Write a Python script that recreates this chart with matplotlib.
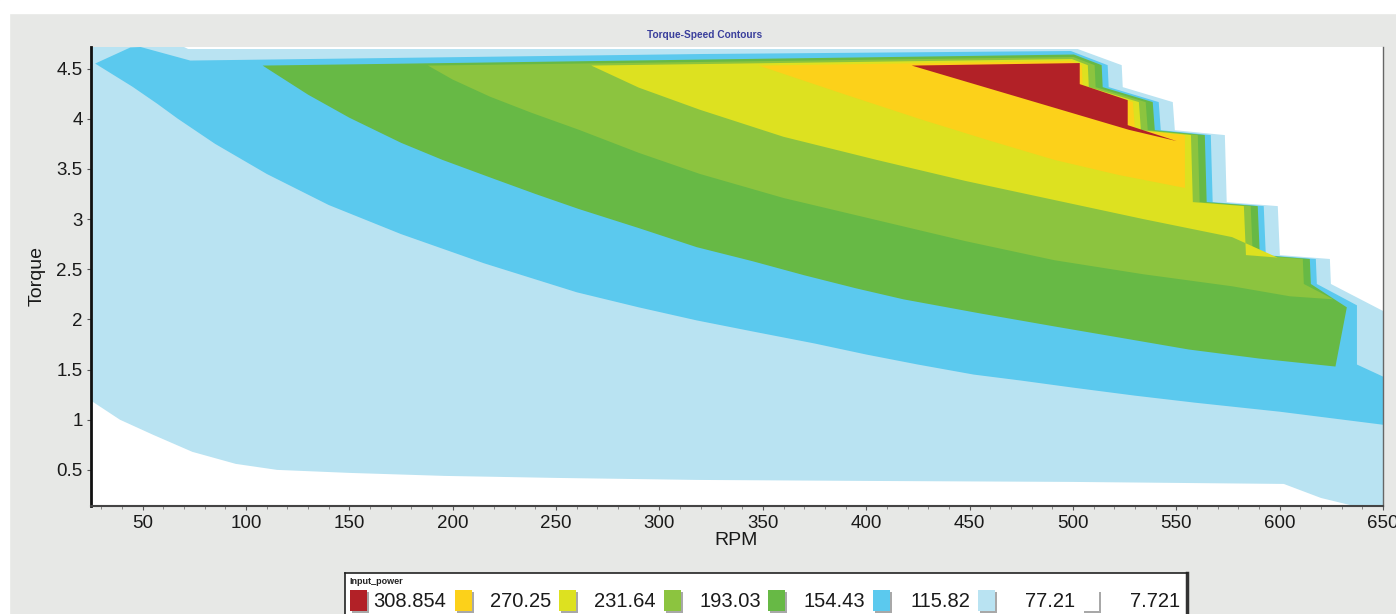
import matplotlib
matplotlib.use("Agg")
import matplotlib.pyplot as plt
from matplotlib.patches import Rectangle

plt.rcParams['font.family'] = ['Liberation Sans', 'DejaVu Sans']

# Power levels shown in the legend (top to bottom)
levels = ['308.854', '270.25', '231.64', '193.03', '154.43', '115.82', '77.21', '7.721']
level_colors = ['#b22127', '#fcd11a', '#dde120', '#8cc43f', '#67b945', '#5bc9ee', '#b9e3f2', '#ffffff']

# Contour bands as (RPM, Torque) outlines
lb_rpm = [25, 25, 70, 72, 502.3, 523.6, 524.1, 548.3, 549.3, 573.5, 574.4, 599.1, 600.1, 624.3,
          624.8, 650, 650, 640, 620, 602, 500, 400, 318, 250, 196, 150, 115, 95, 74, 55, 39, 25]
lb_torque = [1.19, 4.715, 4.715, 4.695, 4.695, 4.534, 4.315, 4.166, 3.886, 3.837, 3.169, 3.129, 2.641, 2.602,
             2.353, 2.084, 0.10, 0.12, 0.22, 0.36, 0.38, 0.39, 0.40, 0.42, 0.44, 0.47, 0.50, 0.56, 0.68, 0.85, 1.00, 1.19]

blue_rpm = [27, 44, 49, 73, 320, 499, 516.8, 517.3, 541.5, 542.5, 566.7, 567.6, 592.3, 593.3, 617.5, 618,
            637.4, 637.4, 650, 650, 600, 559, 530, 500, 475, 452, 425, 400, 375, 345, 318, 290, 260, 215,
            175, 140, 110, 85, 67, 57, 45, 27]
blue_torque = [4.55, 4.71, 4.715, 4.58, 4.645, 4.675, 4.534, 4.315, 4.166, 3.886, 3.837, 3.169, 3.129, 2.641,
               2.602, 2.353, 2.14, 1.55, 1.43, 0.95, 1.08, 1.17, 1.24, 1.32, 1.39, 1.45, 1.55, 1.65, 1.76,
               1.88, 1.99, 2.12, 2.27, 2.56, 2.85, 3.14, 3.45, 3.75, 4.00, 4.15, 4.32, 4.55]

green_rpm = [108, 500.5, 513.9, 514.4, 538.6, 539.6, 563.8, 564.7, 589.4, 590.4, 614.6, 615.1, 632.5,
             627, 590, 556, 525, 491, 455, 418, 395, 370, 345, 318, 290, 261, 240, 220, 195, 175, 150,
             130, 108]
green_torque = [4.53, 4.64, 4.534, 4.315, 4.166, 3.886, 3.837, 3.169, 3.129, 2.641, 2.602, 2.353, 2.12,
                1.53, 1.61, 1.70, 1.81, 1.93, 2.06, 2.20, 2.31, 2.44, 2.58, 2.72, 2.91, 3.10, 3.25, 3.40,
                3.59, 3.76, 4.01, 4.24, 4.53]

lgreen_rpm = [188, 500.3, 510.5, 511, 535.2, 536.2, 560.4, 561.3, 586, 587, 611.2, 611.7, 626,
              605, 577, 534, 491, 448, 405, 360, 319.5, 290, 261, 238, 218, 200, 188]
lgreen_torque = [4.53, 4.615, 4.534, 4.315, 4.166, 3.886, 3.837, 3.169, 3.129, 2.641, 2.602, 2.353, 2.20,
                 2.23, 2.33, 2.45, 2.59, 2.78, 2.99, 3.21, 3.45, 3.66, 3.89, 4.06, 4.22, 4.39, 4.53]

yellow_rpm = [267, 499.5, 507.2, 507.7, 531.9, 532.9, 557.1, 558, 582.7, 583.7, 599, 577, 534, 491, 448,
              405, 360, 319.5, 290, 267]
yellow_torque = [4.53, 4.595, 4.534, 4.315, 4.166, 3.886, 3.837, 3.169, 3.129, 2.641, 2.616, 2.82, 3.00,
                 3.19, 3.38, 3.59, 3.82, 4.09, 4.31, 4.53]

orange_rpm = [348, 499.1, 504.3, 504.8, 529, 530, 554.2, 554.2, 522, 491, 460, 427, 390, 348]
orange_torque = [4.53, 4.575, 4.534, 4.315, 4.166, 3.886, 3.837, 3.31, 3.44, 3.59, 3.78, 3.99, 4.24, 4.53]

red_rpm = [422, 503.3, 503.3, 526.5, 526.5, 550.2, 527, 422]
red_torque = [4.53, 4.555, 4.345, 4.185, 3.936, 3.777, 3.89, 4.53]

x_ticks = [50, 100, 150, 200, 250, 300, 350, 400, 450, 500, 550, 600, 650]
y_ticks = [0.5, 1, 1.5, 2, 2.5, 3, 3.5, 4, 4.5]
y_ticklabels = ['0.5', '1', '1.5', '2', '2.5', '3', '3.5', '4', '4.5']

bands = [
    (lb_rpm, lb_torque, level_colors[6]),
    (blue_rpm, blue_torque, level_colors[5]),
    (green_rpm, green_torque, level_colors[4]),
    (lgreen_rpm, lgreen_torque, level_colors[3]),
    (yellow_rpm, yellow_torque, level_colors[2]),
    (orange_rpm, orange_torque, level_colors[1]),
    (red_rpm, red_torque, level_colors[0]),
]

W, H = 1396, 614
fig = plt.figure(figsize=(W / 100, H / 100), dpi=100, facecolor='#e7e8e6')
# white margins of the window grab (top strip and thin left edge)
fig.patches.append(Rectangle((0, 1 - 13 / H), 1, 13 / H, transform=fig.transFigure,
                             color='white', zorder=0))
fig.patches.append(Rectangle((0, 0), 9 / W, 1, transform=fig.transFigure,
                             color='white', zorder=0))

ax = fig.add_axes([91 / W, 1 - 505.5 / H, (1383 - 91) / W, (505.5 - 47) / H])
ax.set_facecolor('white')

for rpm, torque, col in bands:
    ax.fill(rpm, torque, color=col, linewidth=0)

ax.set_xlim(25, 650)
ax.set_ylim(0.145, 4.715)
ax.set_xticks(x_ticks)
ax.set_xticks(range(30, 650, 10), minor=True)
ax.set_yticks(y_ticks)
ax.set_yticklabels(y_ticklabels)
ax.tick_params(axis='both', which='major', labelsize=13.5, length=3, width=0.8,
               color='#555555', labelcolor='#1a1a1a')
ax.tick_params(axis='x', which='major', pad=4)
ax.tick_params(axis='y', which='major', pad=3)
ax.tick_params(axis='x', which='minor', length=2, width=0.6, color='#777777')

ax.spines['top'].set_visible(False)
ax.spines['left'].set_linewidth(2)
ax.spines['left'].set_color('#111111')
ax.spines['bottom'].set_linewidth(1.5)
ax.spines['bottom'].set_color('#444444')
ax.spines['right'].set_linewidth(1)
ax.spines['right'].set_color('#666666')

ax.set_xlabel('RPM', fontsize=14, color='#1a1a1a', va='center')
ax.xaxis.set_label_coords((736 - 91) / 1292, -35 / 458)
ax.set_ylabel('Torque', fontsize=14, color='#1a1a1a', va='center')
ax.yaxis.set_label_coords((37 - 91) / 1292, (505 - 276) / 458)

fig.text(705 / W, 1 - 35 / H, 'Torque-Speed Contours', fontsize=7.3, fontweight='bold',
         color='#3a3f9c', ha='center', va='center')

# legend panel drawn by hand
lx0, lx1, ly0 = 345, 1187, 573
lax = fig.add_axes([lx0 / W, 0, (lx1 - lx0) / W, (H - ly0) / H])
lax.set_xlim(0, lx1 - lx0)
lax.set_ylim(H - ly0, 0)
lax.set_xticks([])
lax.set_yticks([])
lax.set_facecolor('white')
lax.spines['bottom'].set_visible(False)
for s in ['top', 'left']:
    lax.spines[s].set_linewidth(1.2)
    lax.spines[s].set_color('#222222')
lax.spines['right'].set_linewidth(2.5)
lax.spines['right'].set_color('#333333')

lax.text(4, 8, 'Input_power', fontsize=6.5, fontweight='bold', color='#222222',
         ha='left', va='center')
for i, (lab, col) in enumerate(zip(levels, level_colors)):
    sx = 5 + i * 104.6
    lax.add_patch(Rectangle((sx + 2, 19), 17, 21, color='#a8a8a8', lw=0))
    lax.add_patch(Rectangle((sx, 17), 17, 21, color=col, lw=0))
    lax.text(101 + i * 104.9, 28.5, lab, fontsize=14.5, color='#1a1a1a', ha='right', va='center')

fig.savefig('out.png', dpi=100, facecolor=fig.get_facecolor())
